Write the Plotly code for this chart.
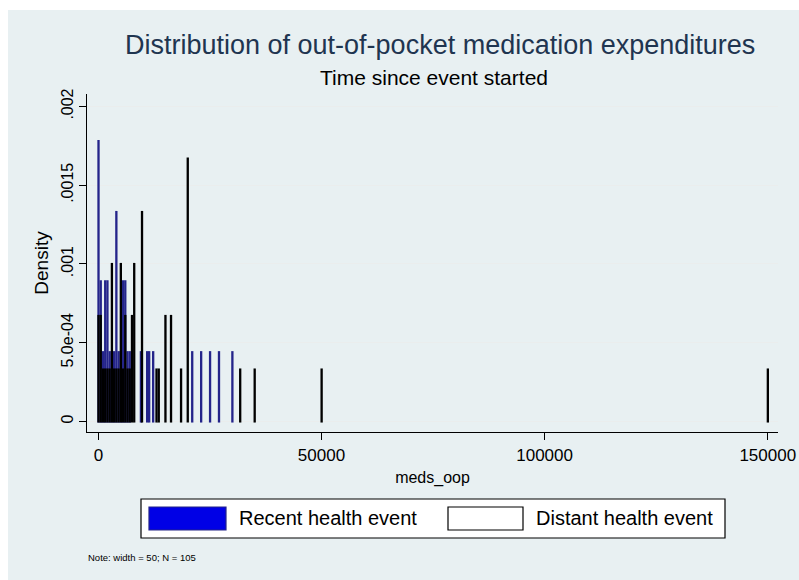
import plotly.graph_objects as go

# ---------------- data ----------------
bin_width = 50

recent_x = [0, 500, 1000, 1500, 2000, 2500, 3000, 3500, 4000, 4500, 5000, 5500,
            6000, 6500, 7000, 9500, 10900, 11350, 12250, 21000, 23000, 25000,
            27000, 30000]
recent_density = [0.00178, 0.00089, 0.00044, 0.00089, 0.00089, 0.00044, 0.00044,
                  0.00044, 0.00133, 0.00044, 0.00044, 0.00089, 0.00089, 0.00044,
                  0.00044, 0.00044, 0.00044, 0.00044, 0.00044, 0.00044, 0.00044,
                  0.00044, 0.00044, 0.00044]

distant_x = [0, 500, 1000, 1500, 2000, 2500, 3000, 3500, 4000, 4500, 5000, 5500,
             6000, 6500, 7000, 7500, 8000, 9750, 13000, 13500, 15000, 16250,
             18500, 20000, 31750, 35000, 50000, 150000]
distant_density = [0.00067, 0.00067, 0.00033, 0.00033, 0.00033, 0.00033, 0.00100,
                   0.00033, 0.00033, 0.00033, 0.00100, 0.00033, 0.00067, 0.00033,
                   0.00033, 0.00067, 0.00100, 0.00133, 0.00033, 0.00033, 0.00067,
                   0.00067, 0.00033, 0.00167, 0.00033, 0.00033, 0.00033, 0.00033]

x_ticks = [0, 50000, 100000, 150000]
x_tick_text = ["0", "50000", "100000", "150000"]
y_ticks = [0, 0.0005, 0.001, 0.0015, 0.002]
y_tick_text = ["0", "5.0e-04", ".001", ".0015", ".002"]

title_text = "Distribution of out-of-pocket medication expenditures"
subtitle_text = "Time since event started"
x_title = "meds_oop"
y_title = "Density"
legend_names = ["Recent health event", "Distant health event"]
note_text = "Note: width = 50; N = 105"

# ---------------- layout geometry (pixels) ----------------
W, H = 799, 580
L, R, T, B = 87, 778, 94, 432          # plot area in pixels
FONT = "Liberation Sans, Arial, sans-serif"
BG = "#e8f0f2"
TITLE_COLOR = "#1f3550"
BLUE_FILL = "#0000e6"
BLUE_LINE = "#24248a"


def px(xp):
    return (xp - L) / (R - L)


def py(yp):
    return (B - yp) / (B - T)


fig = go.Figure()
fig.add_trace(go.Bar(
    x=recent_x, y=recent_density, width=bin_width, offset=0,
    marker=dict(color=BLUE_FILL, line=dict(color=BLUE_LINE, width=2.1)),
    name=legend_names[0], showlegend=False, hoverinfo="x+y"))
fig.add_trace(go.Bar(
    x=distant_x, y=distant_density, width=bin_width, offset=0,
    marker=dict(color="#ffffff", line=dict(color="#000000", width=2.1)),
    name=legend_names[1], showlegend=False, hoverinfo="x+y"))

shapes = [
    # graph region background
    dict(type="rect", xref="paper", yref="paper", layer="below",
         x0=px(8), x1=px(W + 5), y0=py(H + 5), y1=py(10),
         fillcolor=BG, line=dict(width=0)),
    # legend box
    dict(type="rect", xref="paper", yref="paper",
         x0=px(141), x1=px(725), y0=py(538), y1=py(499),
         fillcolor="#ffffff", line=dict(color="#000000", width=1.2)),
    dict(type="rect", xref="paper", yref="paper",
         x0=px(149), x1=px(226), y0=py(530), y1=py(507),
         fillcolor=BLUE_FILL, line=dict(color=BLUE_LINE, width=1.2)),
    dict(type="rect", xref="paper", yref="paper",
         x0=px(448), x1=px(523), y0=py(530), y1=py(507),
         fillcolor="#ffffff", line=dict(color="#000000", width=1.2)),
]

annotations = [
    dict(text=title_text, xref="paper", yref="paper", x=px(440), y=py(45),
         xanchor="center", yanchor="middle", showarrow=False,
         font=dict(family=FONT, size=27, color=TITLE_COLOR)),
    dict(text=subtitle_text, xref="paper", yref="paper", x=px(434), y=py(77),
         xanchor="center", yanchor="middle", showarrow=False,
         font=dict(family=FONT, size=21, color="#000000")),
    dict(text=legend_names[0], xref="paper", yref="paper", x=px(237), y=py(518),
         xanchor="left", yanchor="middle", showarrow=False,
         font=dict(family=FONT, size=20, color="#000000")),
    dict(text=legend_names[1], xref="paper", yref="paper", x=px(534), y=py(518),
         xanchor="left", yanchor="middle", showarrow=False,
         font=dict(family=FONT, size=20, color="#000000")),
    dict(text=note_text, xref="paper", yref="paper", x=px(86), y=py(557),
         xanchor="left", yanchor="middle", showarrow=False,
         font=dict(family=FONT, size=9.5, color="#000000")),
]

fig.update_layout(
    width=W, height=H,
    margin=dict(l=L, r=W - R, t=T, b=H - B, pad=0, autoexpand=False),
    paper_bgcolor="#ffffff", plot_bgcolor="#ffffff",
    barmode="overlay", bargap=0.2,
    showlegend=False,
    shapes=shapes, annotations=annotations,
    font=dict(family=FONT, color="#000000"),
    xaxis=dict(range=[-2555, 152300], tickvals=x_ticks, ticktext=x_tick_text,
               automargin=False,
               showgrid=False, zeroline=False, showline=True, linecolor="#000000",
               linewidth=1.2, ticks="outside", ticklen=7, tickcolor="#000000",
               tickfont=dict(family=FONT, size=17, color="#000000"),
               title=dict(text=x_title, standoff=8,
                          font=dict(family=FONT, size=16, color="#000000"))),
    yaxis=dict(range=[-0.0000667, 0.002079], tickvals=y_ticks, ticktext=y_tick_text,
               automargin=False,
               tickangle=-90, showgrid=True, gridcolor="#eaeded", gridwidth=1,
               zeroline=False, showline=True, linecolor="#000000", linewidth=1.2,
               ticks="outside", ticklen=7, tickcolor="#000000",
               tickfont=dict(family=FONT, size=16, color="#000000"),
               title=dict(text=y_title, standoff=4,
                          font=dict(family=FONT, size=19, color="#000000"))),
)

fig.write_html("out.html",
               config={"displayModeBar": False},
               post_script="document.body.style.margin='0px';"
                           "document.body.style.overflow='hidden';")
